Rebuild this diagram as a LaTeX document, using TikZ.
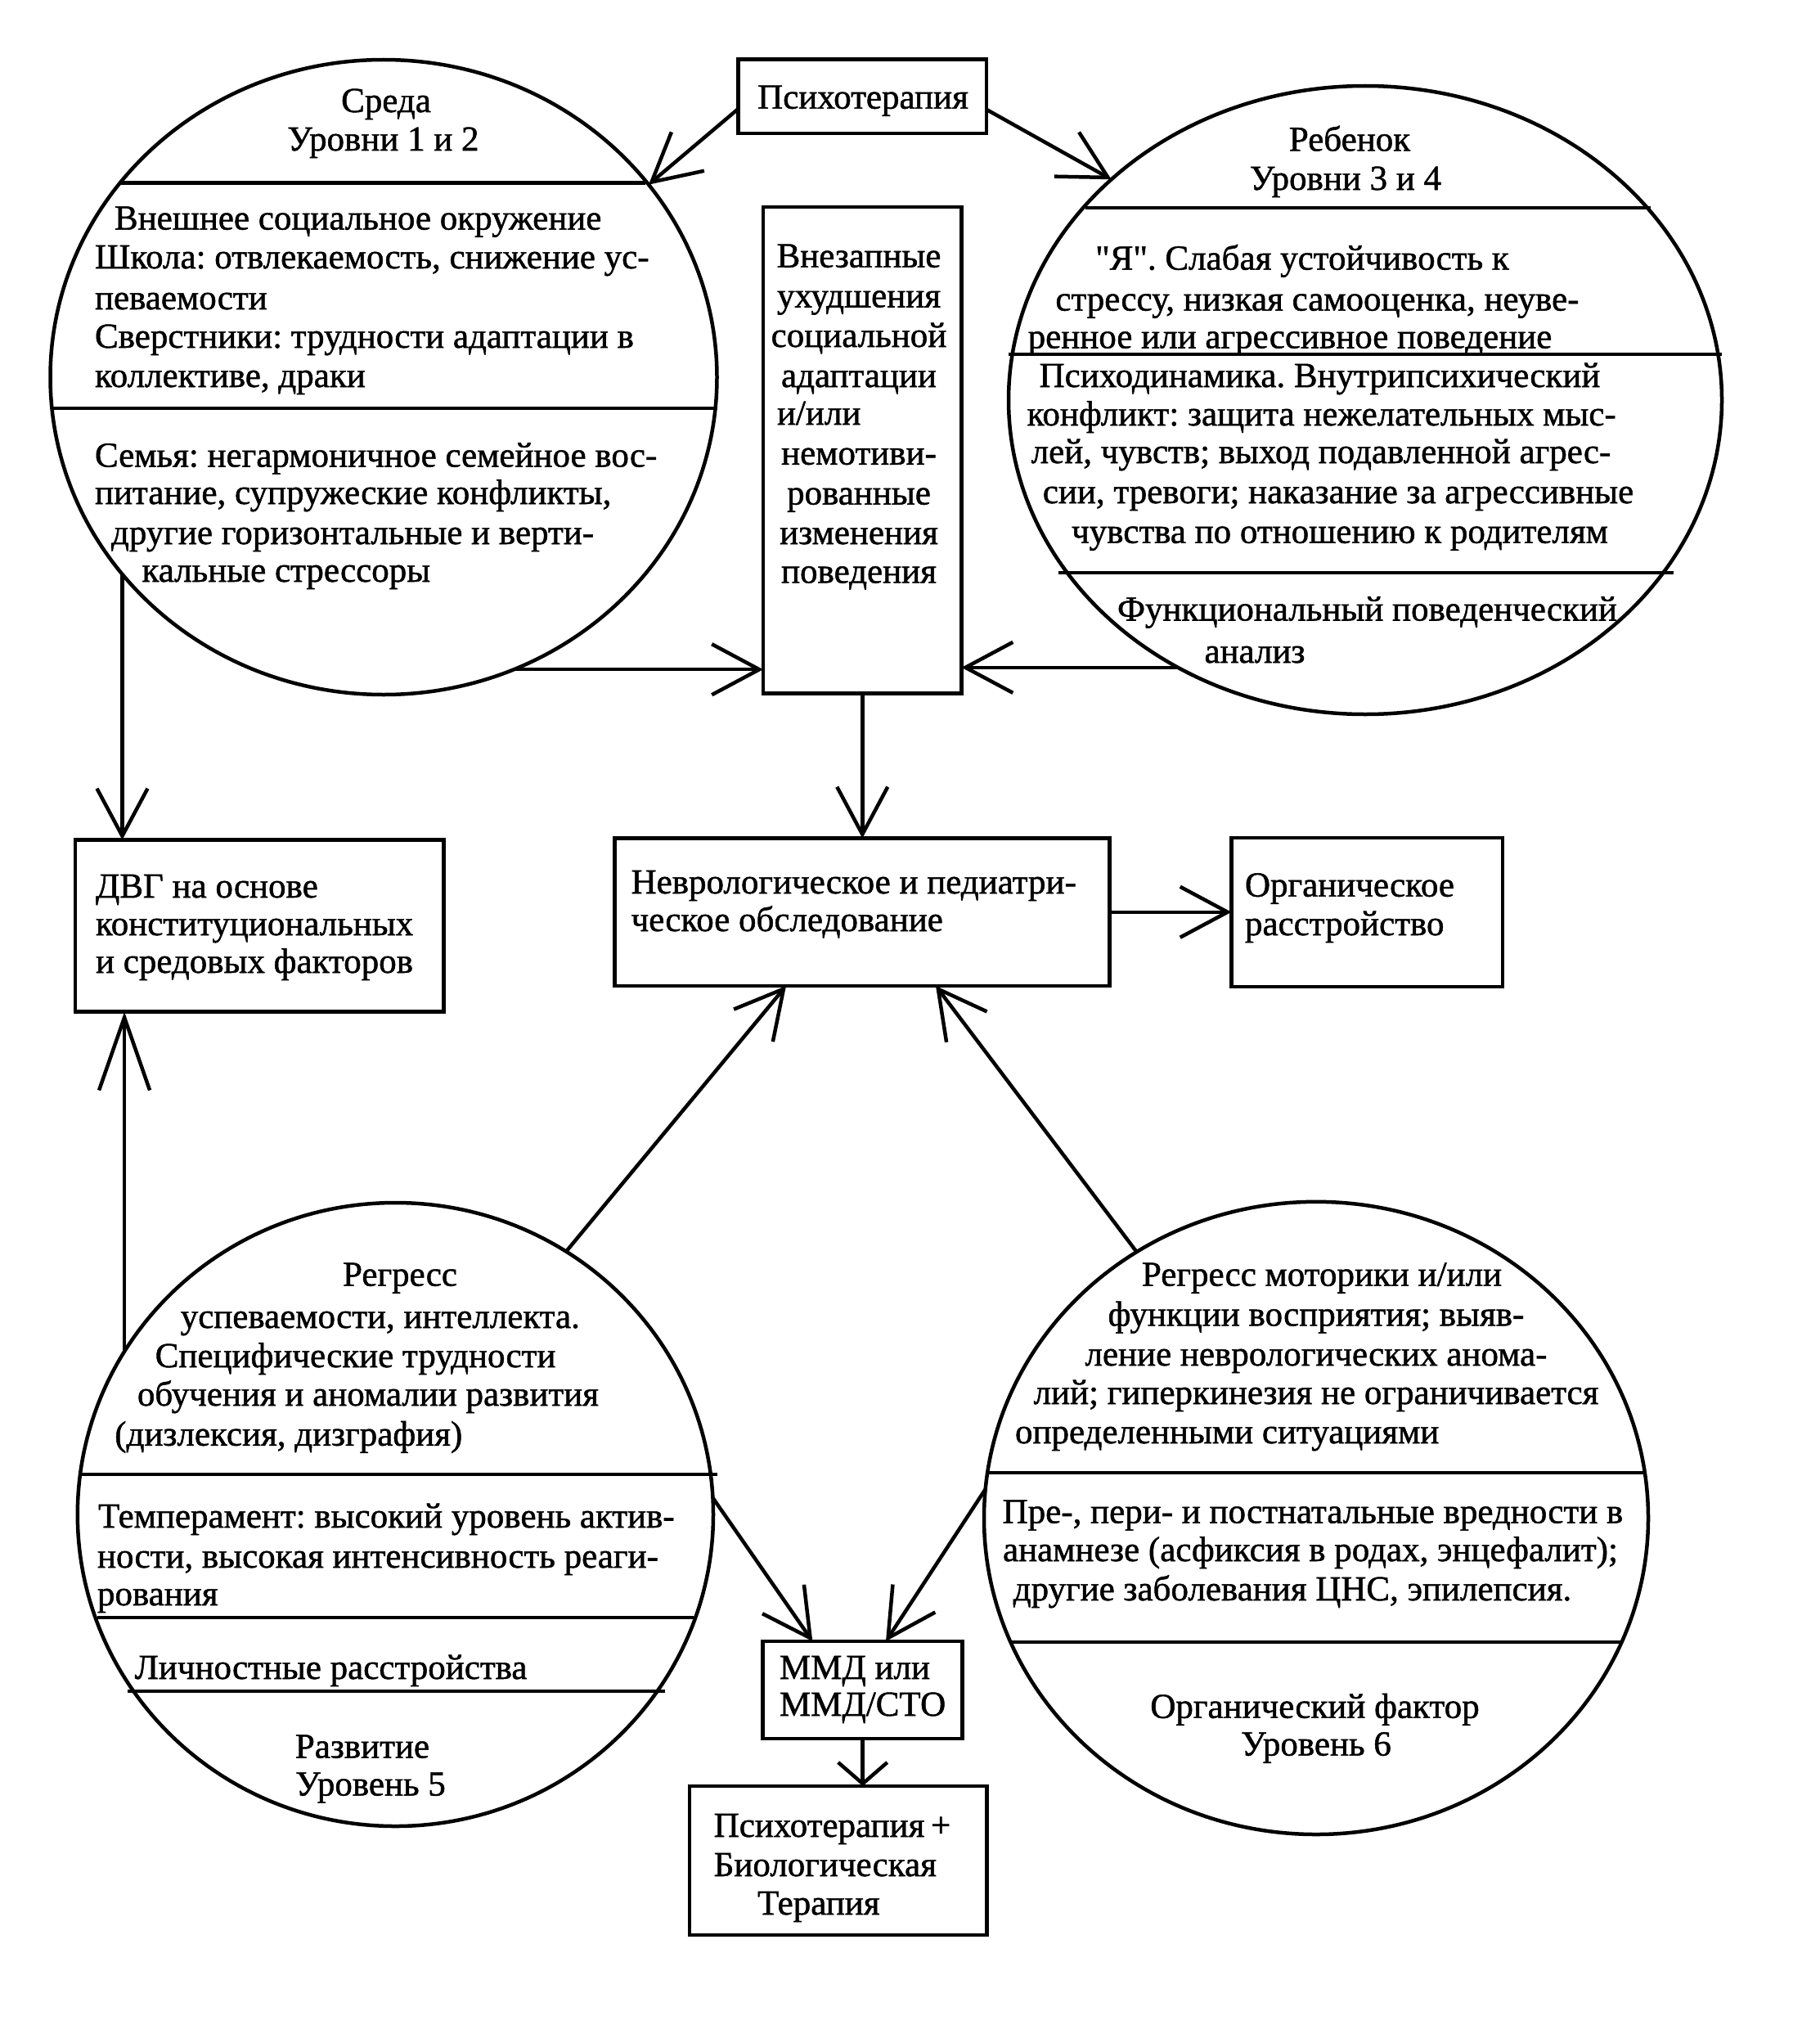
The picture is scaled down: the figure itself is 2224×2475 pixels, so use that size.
\documentclass[tikz,border=0pt]{standalone}
\usepackage{fontspec}
\newfontfamily\rfont{Liberation Serif}[Ligatures=TeXOff, FakeBold=1.2]
\usetikzlibrary{shapes.geometric,arrows.meta}
\frenchspacing
\begin{document}
\begin{tikzpicture}[x=1pt,y=-1pt,
  box/.style={draw, rectangle, line width=4.5pt, inner sep=0pt, outer sep=0pt, anchor=north west},
  circ/.style={draw, ellipse, line width=4.5pt, inner sep=0pt, outer sep=0pt},
  tx/.style={font=\rfont\fontsize{43pt}{48pt}\selectfont\frenchspacing, inner sep=0pt, outer sep=0pt},
  sep/.style={line width=4.2pt},
  arr/.style={line width=4.5pt, -{Straight Barb[length=58pt,width=62pt]}},
  arrlong/.style={line width=4.5pt, -{Straight Barb[length=89pt,width=62pt]}},
  arrshort/.style={line width=4.5pt, -{Straight Barb[length=26pt,width=60pt]}}]
\fill[white] (0,0) rectangle (2224,2475);
\useasboundingbox (0,0) rectangle (2224,2475);

% ---------- boxes ----------
\node[box, minimum width=303.3pt, minimum height=90.3pt] (psy) at (902.7,72.7) {};
\node[box, minimum width=242.5pt, minimum height=594.5pt] (vb) at (933,253) {};
\node[box, minimum width=450.5pt, minimum height=210.2pt] (dvg) at (92,1026.5) {};
\node[box, minimum width=604.9pt, minimum height=180.5pt] (nevr) at (751.7,1024.5) {};
\node[box, minimum width=331.5pt, minimum height=182pt] (org) at (1505.5,1024) {};
\node[box, minimum width=244pt, minimum height=119pt] (mmd) at (932.7,2006) {};
\node[box, minimum width=363.7pt, minimum height=182pt] (pbt) at (843,2183) {};

% ---------- circles ----------
\node[circ, minimum width=815pt, minimum height=776pt] (c1) at (469,461) {};
\node[circ, minimum width=872pt, minimum height=768pt] (c2) at (1669,489) {};
\node[circ, minimum width=777.2pt, minimum height=762pt] (c5) at (483.4,1851) {};
\node[circ, minimum width=812pt, minimum height=773.2pt] (c6) at (1609,1855.4) {};

% ---------- division lines ----------
\draw[sep] (147,223.5) -- (789,223.5);
\draw[sep] (61.6,499) -- (876.7,499);
\draw[sep] (1327,254) -- (2018,254);
\draw[sep] (1233,433) -- (2105,433);
\draw[sep] (1293.5,700) -- (2046,700);
\draw[sep] (96,1801.7) -- (876.6,1801.7);
\draw[sep] (119,1976.8) -- (848,1976.8);
\draw[sep] (156,2067) -- (813,2067);
\draw[sep] (1204.5,1800) -- (2013.4,1800);
\draw[sep] (1235,2006.6) -- (1983,2006.6);

% ---------- texts: boxes ----------
\node[tx,anchor=base] (psyt) at (1055,132.7) {Психотерапия};

\node[tx,anchor=base] (vb1) at (1050,326.7) {Внезапные};
\node[tx,anchor=base] (vb2) at (1050,375.5) {ухудшения};
\node[tx,anchor=base] (vb3) at (1050,424) {социальной};
\node[tx,anchor=base] (vb4) at (1050,473) {адаптации};
\node[tx,anchor=base west] (vb5) at (950,519) {и/или};
\node[tx,anchor=base] (vb6) at (1050,567.8) {немотиви-};
\node[tx,anchor=base] (vb7) at (1050,616.6) {рованные};
\node[tx,anchor=base] (vb8) at (1050,665) {изменения};
\node[tx,anchor=base] (vb9) at (1050,712.4) {поведения};

\node[tx,anchor=base west] (dvg1) at (117,1097) {ДВГ на основе};
\node[tx,anchor=base west] (dvg2) at (117,1143) {конституциональных};
\node[tx,anchor=base west] (dvg3) at (117,1189) {и средовых факторов};

\node[tx,anchor=base west] (nv1) at (771.6,1092) {Неврологическое и педиатри-};
\node[tx,anchor=base west] (nv2) at (771.6,1138) {ческое обследование};

\node[tx,anchor=base west] (or1) at (1522,1095.7) {Органическое};
\node[tx,anchor=base west] (or2) at (1522,1143) {расстройство};

\node[tx,anchor=base west] (mm1) at (953,2052) {ММД или};
\node[tx,anchor=base west] (mm2) at (953,2097) {ММД/СТО};

\node[tx,anchor=base west] (pb1) at (872.7,2245) {Психотерапия\hspace{-3pt} +};
\node[tx,anchor=base west] (pb2) at (872.7,2293) {Биологическая};
\node[tx,anchor=base west] (pb3) at (926,2340) {Терапия};

% ---------- texts: circle 1 ----------
\node[tx,anchor=base] (c1t1) at (472,137) {Среда};
\node[tx,anchor=base] (c1t2) at (468.5,184) {Уровни 1 и 2};
\node[tx,anchor=base west] (c1t3) at (140,280.6) {Внешнее социальное окружение};
\node[tx,anchor=base west] (c1t4) at (116,328) {Школа: отвлекаемость, снижение ус-};
\node[tx,anchor=base west] (c1t5) at (116,378) {певаемости};
\node[tx,anchor=base west] (c1t6) at (116,425) {Сверстники: трудности адаптации в};
\node[tx,anchor=base west] (c1t7) at (116,473) {коллективе, драки};
\node[tx,anchor=base west] (c1t8) at (116,570.5) {Семья: негармоничное семейное вос-};
\node[tx,anchor=base west] (c1t9) at (116,616) {питание, супружеские конфликты,};
\node[tx,anchor=base west] (c1t10) at (136,665) {другие горизонтальные и верти-};
\node[tx,anchor=base west] (c1t11) at (173.5,711) {кальные стрессоры};

% ---------- texts: circle 2 ----------
\node[tx,anchor=base] (c2t1) at (1650,184.4) {Ребенок};
\node[tx,anchor=base] (c2t2) at (1645,232) {Уровни 3 и 4};
\node[tx,anchor=base] (c2t3) at (1592,329.6) {"Я". Слабая устойчивость к};
\node[tx,anchor=base] (c2t4) at (1610.4,379.6) {стрессу, низкая самооценка, неуве-};
\node[tx,anchor=base] (c2t5) at (1577,425.5) {ренное или агрессивное поведение};
\node[tx,anchor=base] (c2t6) at (1613.5,473) {Психодинамика. Внутрипсихический};
\node[tx,anchor=base] (c2t7) at (1615.7,520) {конфликт: защита нежелательных мыс-};
\node[tx,anchor=base] (c2t8) at (1615,566) {лей, чувств; выход подавленной агрес-};
\node[tx,anchor=base] (c2t9) at (1636,615) {сии, тревоги; наказание за агрессивные};
\node[tx,anchor=base] (c2t10) at (1638,663.7) {чувства по отношению к родителям};
\node[tx,anchor=base] (c2t11) at (1671.5,758.5) {Функциональный поведенческий};
\node[tx,anchor=base] (c2t12) at (1534,810) {анализ};

% ---------- texts: circle 5 ----------
\node[tx,anchor=base] (c5t1) at (489,1571.6) {Регресс};
\node[tx,anchor=base] (c5t2) at (464.8,1623) {успеваемости, интеллекта.};
\node[tx,anchor=base] (c5t3) at (434.6,1671) {Специфические трудности};
\node[tx,anchor=base] (c5t4) at (450,1718) {обучения и аномалии развития};
\node[tx,anchor=base] (c5t5) at (352.8,1766.8) {(дизлексия, дизграфия)};
\node[tx,anchor=base west] (c5t6) at (120,1867) {Темперамент: высокий уровень актив-};
\node[tx,anchor=base west] (c5t7) at (119,1916) {ности, высокая интенсивность реаги-};
\node[tx,anchor=base west] (c5t8) at (119,1962) {рования};
\node[tx,anchor=base] (c5t9) at (404.6,2052) {Личностные расстройства};
\node[tx,anchor=base] (c5t10) at (443,2148.5) {Развитие};
\node[tx,anchor=base] (c5t11) at (453,2194.5) {Уровень 5};

% ---------- texts: circle 6 ----------
\node[tx,anchor=base] (c6t1) at (1616,1571.6) {Регресс моторики и/или};
\node[tx,anchor=base] (c6t2) at (1609,1620.4) {функции восприятия; выяв-};
\node[tx,anchor=base] (c6t3) at (1609,1669) {ление неврологических анома-};
\node[tx,anchor=base] (c6t4) at (1609,1716) {лий; гиперкинезия не ограничивается};
\node[tx,anchor=base west] (c6t5) at (1241,1764) {определенными ситуациями};
\node[tx,anchor=base] (c6t6) at (1605,1861.5) {Пре-, пери- и постнатальные вредности в};
\node[tx,anchor=base] (c6t7) at (1602,1908) {анамнезе (асфиксия в родах, энцефалит);};
\node[tx,anchor=base] (c6t8) at (1580,1956) {другие заболевания ЦНС, эпилепсия.};
\node[tx,anchor=base] (c6t9) at (1607.5,2099.7) {Органический фактор};
\node[tx,anchor=base] (c6t10) at (1609,2145.6) {Уровень 6};

% ---------- connectors ----------
\draw[arr] ([yshift=-15pt]psy.west) -- (c1.36.9);
\draw[arr] ([yshift=-16pt]psy.east) -- (c2.139.7);
\draw[arr] (c1.217.5) -- (c1.217.5 |- dvg.north);
\draw[arrlong] (c5.149.45) -- (c5.149.45 |- dvg.south);
\draw[arr] (c1.294.15) -- (c1.294.15 -| vb.west);
\draw[arr] (c2.235.6) -- (c2.235.6 -| vb.east);
\draw[arr] (vb.south) -- (vb.south |- nevr.north);
\draw[arr] (nevr.east) -- (nevr.east -| org.west);
\draw[arr] (c5.57.02) -- ([xshift=209.3pt]nevr.south west);
\draw[arr] (c6.124.24) -- ([xshift=392.3pt]nevr.south west);
\draw[arr] (c5.3.87) -- ([xshift=60.6pt]mmd.north west);
\draw[arr] (c6.175.65) -- ([xshift=150.3pt]mmd.north west);
\draw[arrshort] (mmd.south) -- (mmd.south |- pbt.north);
\end{tikzpicture}
\end{document}
